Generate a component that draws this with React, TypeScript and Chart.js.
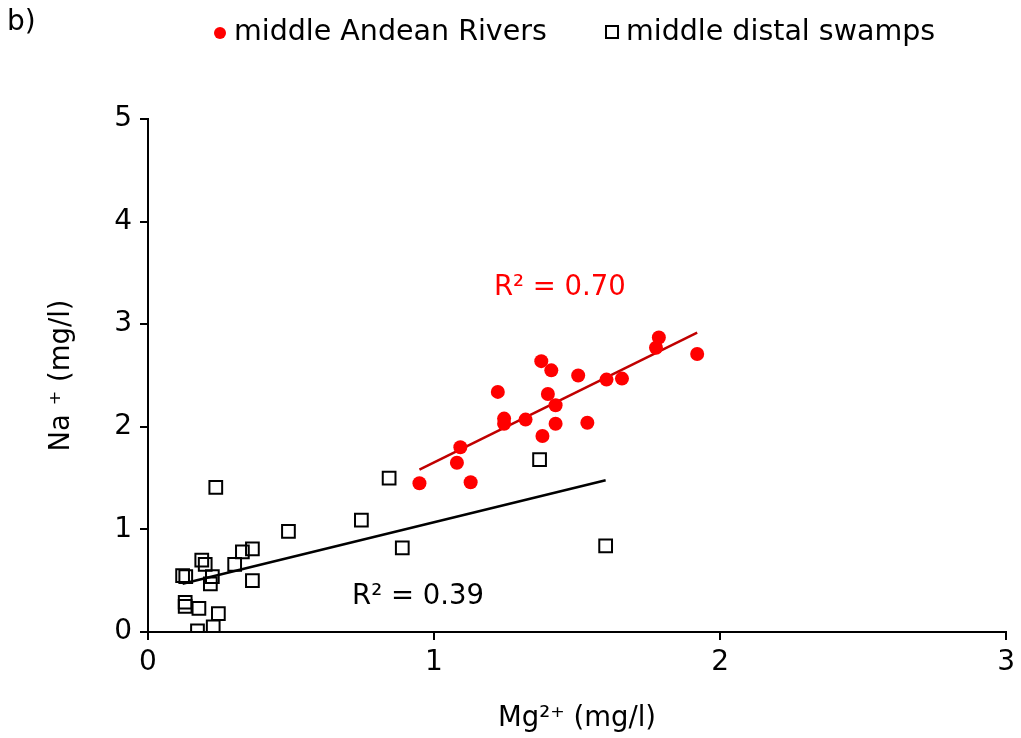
import React, { useEffect, useRef } from 'react';
import { Chart, registerables } from 'chart.js';

Chart.register(...registerables);

// ---- data ----
const seriesNames = ['middle Andean Rivers', 'middle distal swamps'];

const andeanMg = [0.949, 1.08, 1.092, 1.128, 1.223, 1.245, 1.245, 1.32, 1.375, 1.379, 1.398, 1.41, 1.425, 1.425, 1.504, 1.536, 1.603, 1.657, 1.776, 1.786, 1.92];
const andeanNa = [1.45, 1.65, 1.8, 1.46, 2.34, 2.08, 2.03, 2.07, 2.64, 1.91, 2.32, 2.55, 2.21, 2.03, 2.5, 2.04, 2.46, 2.47, 2.77, 2.87, 2.71];

const swampMg = [0.237, 0.491, 0.365, 0.33, 0.303, 0.188, 0.2, 0.121, 0.132, 0.225, 0.218, 0.365, 0.13, 0.13, 0.178, 0.246, 0.228, 0.173, 0.746, 0.843, 0.889, 1.369, 1.6];
const swampNa = [1.41, 0.98, 0.81, 0.78, 0.66, 0.7, 0.66, 0.55, 0.54, 0.54, 0.47, 0.5, 0.29, 0.25, 0.23, 0.18, 0.05, 0.01, 1.09, 1.5, 0.82, 1.68, 0.84];

const r2Texts = ['R² = 0.70', 'R² = 0.39'];
const r2Anchors = [
  { x: 1.44, y: 3.35 },
  { x: 0.944, y: 0.34 },
];

const xMin = 0, xMax = 3, xStep = 1;
const yMin = 0, yMax = 5, yStep = 1;
const xTitle = 'Mg²⁺ (mg/l)';
const yTitle = 'Na ⁺ (mg/l)';
const panelLabel = 'b)';

// ---- helpers ----
function toPoints(xs: number[], ys: number[]) {
  return xs.map((x, i) => ({ x, y: ys[i] }));
}

function linearFit(xs: number[], ys: number[]) {
  const n = xs.length;
  const mx = xs.reduce((a, b) => a + b, 0) / n;
  const my = ys.reduce((a, b) => a + b, 0) / n;
  let sxy = 0, sxx = 0;
  for (let i = 0; i < n; i++) {
    sxy += (xs[i] - mx) * (ys[i] - my);
    sxx += (xs[i] - mx) * (xs[i] - mx);
  }
  const b = sxy / sxx;
  const a = my - b * mx;
  const lo = Math.min(...xs);
  const hi = Math.max(...xs);
  return [
    { x: lo, y: a + b * lo },
    { x: hi, y: a + b * hi },
  ];
}

const FONT = '"DejaVu Sans", "Liberation Sans", Arial, sans-serif';
const RED = '#FF0000';
const DARKRED = '#C00000';

const decorPlugin = {
  id: 'decor',
  afterDraw(chart: any) {
    const { ctx, scales } = chart;
    const xs = scales.x;
    const ys = scales.y;
    ctx.save();
    ctx.textBaseline = 'middle';
    ctx.textAlign = 'left';
    ctx.fillStyle = '#000';
    ctx.font = `28px ${FONT}`;
    ctx.fillText(panelLabel, 7, 23);

    // legend
    ctx.font = `28.5px ${FONT}`;
    // item 1: red dot
    ctx.beginPath();
    ctx.fillStyle = RED;
    ctx.arc(220, 33, 6, 0, Math.PI * 2);
    ctx.fill();
    ctx.fillStyle = '#000';
    ctx.fillText(seriesNames[0], 234, 33);
    // item 2: hollow square
    ctx.lineWidth = 2;
    ctx.strokeStyle = '#000';
    ctx.strokeRect(606, 26, 12, 12);
    ctx.fillText(seriesNames[1], 626, 33);

    // R² labels
    ctx.font = `27.5px ${FONT}`;
    ctx.textAlign = 'center';
    ctx.fillStyle = RED;
    ctx.fillText(r2Texts[0], xs.getPixelForValue(r2Anchors[0].x), ys.getPixelForValue(r2Anchors[0].y));
    ctx.fillStyle = '#000';
    ctx.fillText(r2Texts[1], xs.getPixelForValue(r2Anchors[1].x), ys.getPixelForValue(r2Anchors[1].y));
    ctx.restore();
  },
};

export default function App() {
  const ref = useRef<HTMLCanvasElement | null>(null);

  useEffect(() => {
    if (!ref.current) return;
    const andeanFit = linearFit(andeanMg, andeanNa);
    const swampFit = linearFit(swampMg, swampNa);

    const tickFont = { family: FONT, size: 28 };
    const titleFont = { family: FONT, size: 27.5 };
    const chart = new Chart(ref.current, {
      type: 'scatter',
      data: {
        datasets: [
          {
            label: seriesNames[0],
            data: toPoints(andeanMg, andeanNa),
            pointStyle: 'circle',
            pointRadius: 7,
            pointHoverRadius: 7,
            backgroundColor: RED,
            borderColor: RED,
            borderWidth: 0,
          },
          {
            label: seriesNames[1],
            data: toPoints(swampMg, swampNa),
            pointStyle: 'rect',
            pointRadius: 9,
            pointHoverRadius: 9,
            backgroundColor: 'rgba(255,255,255,0)',
            borderColor: '#000',
            borderWidth: 2,
          },
          {
            type: 'line',
            label: 'fit1',
            data: andeanFit,
            borderColor: DARKRED,
            borderWidth: 2.5,
            pointRadius: 0,
            fill: false,
          } as any,
          {
            type: 'line',
            label: 'fit2',
            data: swampFit,
            borderColor: '#000',
            borderWidth: 2.5,
            pointRadius: 0,
            fill: false,
          } as any,
        ],
      },
      options: {
        responsive: false,
        animation: false,
        layout: { padding: { top: 119, right: 13, left: 0, bottom: 0 } },
        plugins: {
          legend: { display: false },
          tooltip: { enabled: false },
        },
        scales: {
          x: {
            type: 'linear',
            min: xMin,
            max: xMax,
            ticks: { stepSize: xStep, font: tickFont, color: '#000', padding: 6 },
            grid: { display: true, drawOnChartArea: false, drawTicks: true, tickLength: 8, color: '#000', lineWidth: 2 },
            border: { display: true, color: '#000', width: 2 },
            title: { display: true, text: xTitle, font: titleFont, color: '#000', padding: { top: 0, bottom: 3 } },
            afterFit: (s: any) => { s.height = 106; },
          },
          y: {
            type: 'linear',
            min: yMin,
            max: yMax,
            ticks: { stepSize: yStep, font: tickFont, color: '#000', padding: 8 },
            grid: { display: true, drawOnChartArea: false, drawTicks: true, tickLength: 8, color: '#000', lineWidth: 2 },
            border: { display: true, color: '#000', width: 2 },
            title: { display: true, text: yTitle, font: titleFont, color: '#000', padding: { top: 45, bottom: 0 } },
            afterFit: (s: any) => { s.width = 148; },
          },
        },
      } as any,
      plugins: [decorPlugin],
    });
    return () => chart.destroy();
  }, []);

  return (
    <div style={{ position: 'absolute', left: 0, top: 0, width: 1021, height: 738, background: '#fff' }}>
      <canvas ref={ref} width={1021} height={738} style={{ display: 'block', width: 1021, height: 738 }} />
    </div>
  );
}
